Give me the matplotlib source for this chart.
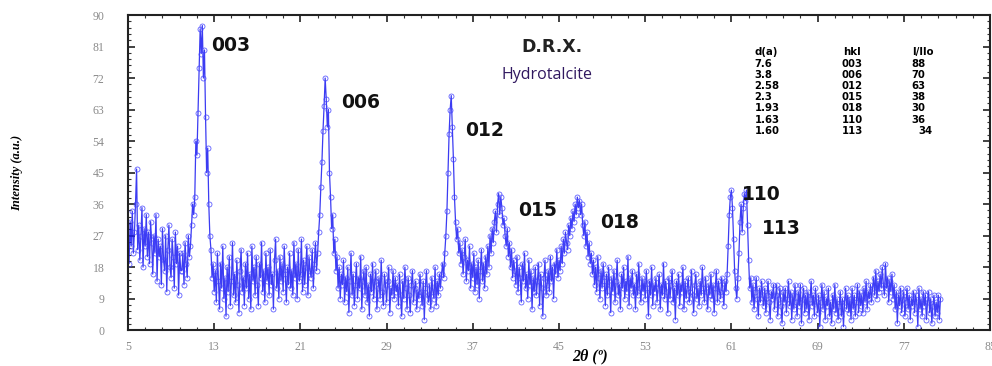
import numpy as np
import matplotlib
matplotlib.use("Agg")
import matplotlib.pyplot as plt

# ---- data: intensity every 0.1 deg of 2theta, starting at 5.0 ----
intensity = [
    26, 19, 31, 24, 34, 22, 28, 36, 46, 23,   # 5
    30, 20, 27, 35, 18, 29, 24, 33, 21, 28,   # 6
    19, 31, 25, 16, 27, 22, 33, 14, 26, 21,   # 7
    24, 13, 29, 20, 17, 27, 11, 23, 30, 18,   # 8
    15, 26, 21, 12, 28, 19, 24, 10, 22, 17,   # 9
    17, 22, 13, 25, 19, 15, 27, 21, 24, 30,   # 10
    36, 33, 38, 54, 50, 62, 75, 86, 79, 87,   # 11
    72, 80, 61, 45, 52, 36, 27, 23, 15, 19,   # 12
    11, 17, 8, 22, 14, 6, 19, 12, 24, 9,      # 13
    15, 4, 18, 11, 21, 7, 14, 25, 10, 16,     # 14
    8, 20, 13, 5, 17, 23, 11, 15, 7, 19,      # 15
    12, 22, 9, 16, 6, 24, 14, 18, 10, 21,     # 16
    13, 7, 19, 15, 25, 11, 17, 8, 22, 14,     # 17
    18, 10, 23, 13, 16, 6, 20, 26, 12, 17,    # 18
    9, 21, 14, 19, 11, 24, 16, 8, 18, 13,     # 19
    22, 12, 17, 10, 25, 15, 19, 9, 23, 14,    # 20
    16, 26, 11, 20, 13, 18, 24, 10, 21, 17,   # 21
    15, 23, 12, 19, 25, 17, 22, 28, 33, 41,   # 22
    48, 57, 64, 72, 66, 58, 63, 45, 38, 29,   # 23
    33, 22, 26, 17, 21, 12, 18, 9, 16, 13,    # 24
    20, 8, 15, 11, 18, 5, 14, 22, 10, 16,     # 25
    7, 13, 19, 9, 15, 12, 21, 6, 14, 17,      # 26
    10, 18, 8, 13, 4, 16, 11, 19, 9, 14,      # 27
    17, 6, 12, 15, 9, 20, 11, 7, 16, 13,      # 28
    8, 14, 18, 5, 12, 10, 17, 9, 15, 11,      # 29
    13, 7, 16, 10, 4, 14, 9, 18, 12, 6,       # 30
    15, 10, 5, 13, 17, 8, 12, 14, 6, 11,      # 31
    9, 16, 11, 7, 14, 3, 12, 17, 10, 8,       # 32
    13, 6, 15, 11, 9, 18, 7, 14, 10, 16,      # 33
    12, 16, 19, 15, 22, 27, 34, 45, 56, 63,   # 34
    67, 58, 49, 38, 31, 26, 29, 22, 25, 19,   # 35
    23, 16, 21, 26, 14, 20, 17, 24, 12, 19,   # 36
    15, 22, 11, 18, 13, 20, 9, 17, 23, 14,    # 37
    19, 12, 21, 16, 24, 18, 27, 22, 29, 25,   # 38
    31, 34, 28, 36, 39, 33, 38, 35, 30, 32,   # 39
    27, 24, 29, 21, 25, 18, 23, 15, 20, 17,   # 40
    13, 21, 11, 18, 15, 8, 19, 14, 22, 12,    # 41
    16, 9, 20, 13, 17, 6, 15, 11, 18, 10,     # 42
    14, 19, 7, 16, 12, 4, 15, 20, 10, 13,     # 43
    17, 11, 21, 14, 18, 9, 19, 16, 23, 15,    # 44
    20, 17, 24, 19, 26, 22, 28, 25, 23, 30,   # 45
    27, 32, 29, 34, 31, 36, 33, 38, 35, 37,   # 46
    33, 36, 30, 27, 31, 24, 28, 21, 25, 19,   # 47
    22, 16, 20, 13, 18, 11, 21, 15, 9, 17,    # 48
    12, 19, 14, 7, 16, 10, 18, 13, 5, 15,     # 49
    11, 17, 8, 14, 20, 10, 13, 6, 16, 12,     # 50
    18, 9, 14, 11, 21, 7, 15, 12, 17, 10,     # 51
    13, 6, 16, 10, 19, 12, 8, 15, 11, 14,     # 52
    9, 17, 12, 4, 14, 10, 18, 7, 13, 11,      # 53
    15, 8, 12, 16, 6, 13, 10, 19, 9, 14,      # 54
    11, 5, 15, 9, 13, 17, 8, 12, 3, 14,       # 55
    10, 16, 7, 13, 11, 18, 6, 14, 9, 12,      # 56
    15, 8, 11, 17, 10, 5, 13, 16, 9, 12,      # 57
    7, 14, 10, 18, 12, 8, 15, 11, 6, 13,      # 58
    10, 16, 9, 13, 5, 12, 17, 8, 14, 11,      # 59
    9, 15, 12, 7, 14, 11, 16, 24, 33, 38,     # 60
    40, 35, 26, 17, 12, 9, 15, 22, 31, 36,    # 61
    28, 35, 39, 37, 40, 30, 20, 12, 15, 8,    # 62
    13, 6, 11, 15, 9, 4, 12, 8, 14, 10,       # 63
    7, 12, 5, 10, 14, 8, 3, 11, 9, 13,        # 64
    6, 10, 13, 4, 9, 12, 7, 2, 11, 8,         # 65
    12, 5, 9, 14, 7, 11, 3, 10, 6, 13,        # 66
    8, 4, 11, 7, 13, 2, 9, 12, 5, 10,         # 67
    6, 11, 3, 9, 14, 7, 10, 4, 12, 8,         # 68
    5, 10, 1, 8, 13, 6, 11, 3, 9, 7,          # 69
    12, 4, 8, 2, 10, 6, 13, 5, 9, 3,          # 70
    7, 11, 4, 9, 1, 8, 12, 6, 10, 5,          # 71
    9, 3, 12, 6, 10, 4, 8, 13, 5, 11,         # 72
    7, 10, 5, 12, 8, 14, 6, 11, 9, 13,        # 73
    8, 12, 15, 10, 17, 9, 14, 11, 16, 12,     # 74
    18, 13, 10, 19, 12, 15, 8, 14, 11, 16,    # 75
    9, 13, 6, 11, 2, 10, 7, 12, 5, 9,         # 76
    11, 4, 8, 12, 6, 10, 3, 9, 7, 11,         # 77
    5, 10, 8, 1, 12, 6, 9, 4, 11, 7,          # 78
    10, 3, 8, 11, 5, 9, 2, 7, 10, 4,          # 79
    8, 5, 10, 3, 9,                           # 80
]
two_theta = np.round(5.0 + 0.1 * np.arange(len(intensity)), 1)

x_ticks = [5, 13, 21, 29, 37, 45, 53, 61, 69, 77, 85]
y_ticks = [0, 9, 18, 27, 36, 45, 54, 63, 72, 81, 90]

peak_labels = ["003", "006", "012", "015", "018", "110", "113"]
peak_label_pos = [(14.5, 81.4), (26.6, 65.0), (38.1, 57.0), (43.0, 34.3),
                  (50.6, 30.6), (63.8, 38.6), (65.6, 29.1)]

table_d = ["7.6", "3.8", "2.58", "2.3", "1.93", "1.63", "1.60"]
table_hkl = ["003", "006", "012", "015", "018", "110", "113"]
table_I = ["88", "70", "63", "38", "30", "36", "34"]

# ---- figure ----
fig = plt.figure(figsize=(9.92, 3.66), dpi=100)
ax = fig.add_axes([0.129, 0.098, 0.869, 0.861])

ax.plot(two_theta, intensity, color="#1a1af0", lw=0.9, marker="o", ms=3.6,
        mfc="none", mec="#4444ff", mew=0.6, alpha=0.85)

ax.set_xlim(5, 85)
ax.set_ylim(0, 90)
ax.set_xticks(x_ticks)
ax.set_xticks(np.arange(5, 85.01, 1.6), minor=True)
ax.set_yticks(y_ticks)
ax.set_yticks(np.arange(0, 90.01, 1.8), minor=True)
ax.tick_params(which="both", direction="in", top=True, right=True,
               colors="#333333")
ax.tick_params(which="major", length=5, width=1.3, labelsize=8.5,
               labelcolor="#8a8a8a")
ax.tick_params(which="minor", length=2.5, width=0.8)
ax.tick_params(axis="y", which="major", pad=17)
ax.tick_params(axis="x", which="major", pad=8)
for lab in ax.get_xticklabels() + ax.get_yticklabels():
    lab.set_family("Liberation Serif")
for s in ax.spines.values():
    s.set_linewidth(1.5)
    s.set_color("#222222")

ax.set_ylabel("Intensity (a.u.)", family="Liberation Serif", style="italic",
              weight="bold", fontsize=9)
ax.yaxis.set_label_coords(-0.122, 0.5)
fig.text(0.595, 0.026, "2θ (º)", family="Liberation Serif", style="italic",
         weight="bold", fontsize=11.5, ha="center", va="center")

for lab, (px, py) in zip(peak_labels, peak_label_pos):
    ax.text(px, py, lab, fontsize=13.5, weight="bold", family="DejaVu Sans",
            ha="center", va="center", color="#111111")

ax.text(0.492, 0.898, "D.R.X.", transform=ax.transAxes, fontsize=12.5,
        weight="bold", family="DejaVu Sans", ha="center", va="center",
        color="#222222")
ax.text(0.486, 0.81, "Hydrotalcite", transform=ax.transAxes, fontsize=11.5,
        family="Open Sans", ha="center", va="center", color="#301860")

# reference table
fs_tab = 7.3
row0, dy = 0.846, 0.0356
ax.text(0.727, 0.882, "d(a)", transform=ax.transAxes, fontsize=fs_tab,
        weight="bold", family="DejaVu Sans", ha="left", va="center")
ax.text(0.840, 0.882, "hkl", transform=ax.transAxes, fontsize=fs_tab,
        weight="bold", family="DejaVu Sans", ha="center", va="center")
ax.text(0.922, 0.882, "I/Ilo", transform=ax.transAxes, fontsize=fs_tab,
        weight="bold", family="DejaVu Sans", ha="center", va="center")
for i in range(len(table_d)):
    yy = row0 - i * dy
    ax.text(0.727, yy, table_d[i], transform=ax.transAxes, fontsize=fs_tab,
            weight="bold", family="DejaVu Sans", ha="left", va="center")
    ax.text(0.840, yy, table_hkl[i], transform=ax.transAxes, fontsize=fs_tab,
            weight="bold", family="DejaVu Sans", ha="center", va="center")
    ax.text(0.917 if i < 6 else 0.925, yy, table_I[i], transform=ax.transAxes,
            fontsize=fs_tab, weight="bold", family="DejaVu Sans",
            ha="center", va="center")

fig.savefig("out.png", dpi=100)
